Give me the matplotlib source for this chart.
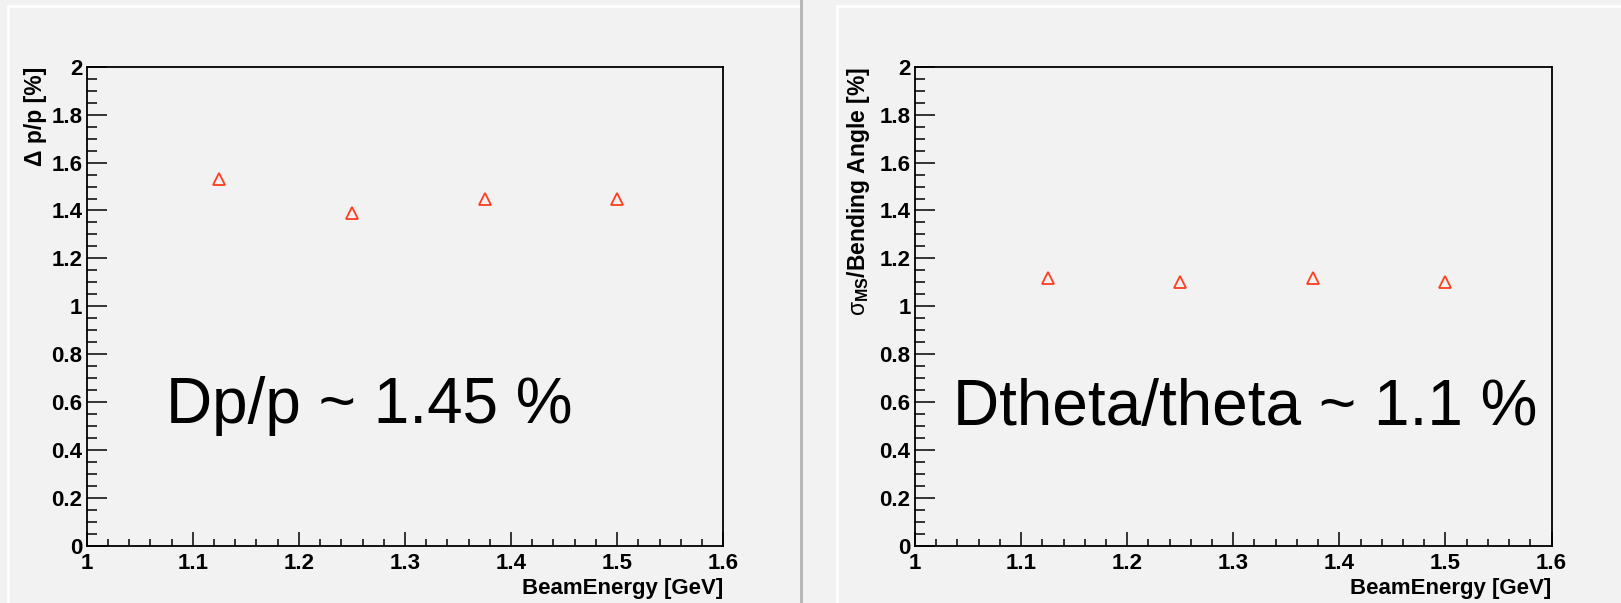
import matplotlib.pyplot as plt
from matplotlib.lines import Line2D
from matplotlib.ticker import MultipleLocator

# beam energies and the two resolutions
beam_energy = [1.125, 1.25, 1.375, 1.5]
dp_over_p = [1.53, 1.39, 1.45, 1.45]
dtheta_over_theta = [1.12, 1.10, 1.12, 1.10]

x_label = "BeamEnergy [GeV]"
left_ylabel = "Δ p/p [%]"
right_ylabel = r"$\sigma_{\mathbf{MS}}$/Bending Angle [%]"
left_note = "Dp/p ~ 1.45 %"
right_note = "Dtheta/theta ~ 1.1 %"

plt.rcParams['font.family'] = ['Liberation Sans', 'DejaVu Sans']
plt.rcParams['mathtext.fontset'] = 'custom'
plt.rcParams['mathtext.rm'] = 'Liberation Sans'
plt.rcParams['mathtext.it'] = 'Liberation Sans'
plt.rcParams['mathtext.bf'] = 'Liberation Sans:bold'

W, H = 1621, 603
BG = '#f2f2f2'


def fx(px):
    return px / W


def fy(py):
    return 1 - py / H


def root_axes(fig, left_px, values, ylabel, label_x, ylabel_size):
    ax = fig.add_axes([fx(left_px), fy(546), 636.5 / W, (546 - 66.7) / H])
    ax.set_facecolor(BG)
    ax.plot(beam_energy, values, linestyle='none', marker='^', markersize=9,
            markerfacecolor='none', markeredgecolor='#ff3d1f', markeredgewidth=1.3)
    ax.set_xlim(1, 1.6)
    ax.set_ylim(0, 2)
    ax.xaxis.set_major_locator(MultipleLocator(0.1))
    ax.xaxis.set_minor_locator(MultipleLocator(0.02))
    ax.yaxis.set_major_locator(MultipleLocator(0.2))
    ax.yaxis.set_minor_locator(MultipleLocator(0.05))
    ax.xaxis.set_major_formatter(lambda v, p: f"{v:g}")
    ax.yaxis.set_major_formatter(lambda v, p: f"{v:g}")
    ax.tick_params(axis='y', which='major', direction='in', length=14.4, width=1.1, pad=3.2)
    ax.tick_params(axis='y', which='minor', direction='in', length=7.2, width=1.1)
    ax.tick_params(axis='x', which='major', direction='in', length=10, width=1.1, pad=5)
    ax.tick_params(axis='x', which='minor', direction='in', length=5, width=1.1)
    for lab in ax.get_xticklabels() + ax.get_yticklabels():
        lab.set_fontsize(16)
        lab.set_fontweight('bold')
    for sp in ax.spines.values():
        sp.set_linewidth(1.3)
    ax.set_xlabel(x_label, fontsize=16, fontweight='bold', loc='right', labelpad=3)
    ax.set_ylabel(ylabel, fontsize=ylabel_size, fontweight='bold', loc='top')
    ax.yaxis.set_label_coords(label_x, 1.0)
    return ax


fig = plt.figure(figsize=(W / 100, H / 100), dpi=100, facecolor=BG)

# pad borders like the ROOT canvas
fig.add_artist(Line2D([fx(8), fx(8), fx(800)], [fy(603), fy(6), fy(6)],
                      color='white', linewidth=2))
fig.add_artist(Line2D([fx(801), fx(801)], [fy(603), fy(0)], color='#b4b4b4', linewidth=2))
fig.add_artist(Line2D([fx(837), fx(837), fx(1621)], [fy(603), fy(6), fy(6)],
                      color='white', linewidth=2))

ax1 = root_axes(fig, 86.7, dp_over_p, left_ylabel, -0.0625, 16.5)
ax2 = root_axes(fig, 915, dtheta_over_theta, right_ylabel, -0.0675, 16.5)

ax1.text(1.0745, 0.513, left_note, fontsize=46, va='baseline', ha='left')
ax2.text(1.0354, 0.505, right_note, fontsize=46, va='baseline', ha='left')

fig.savefig("out.png", dpi=100, facecolor=BG)
